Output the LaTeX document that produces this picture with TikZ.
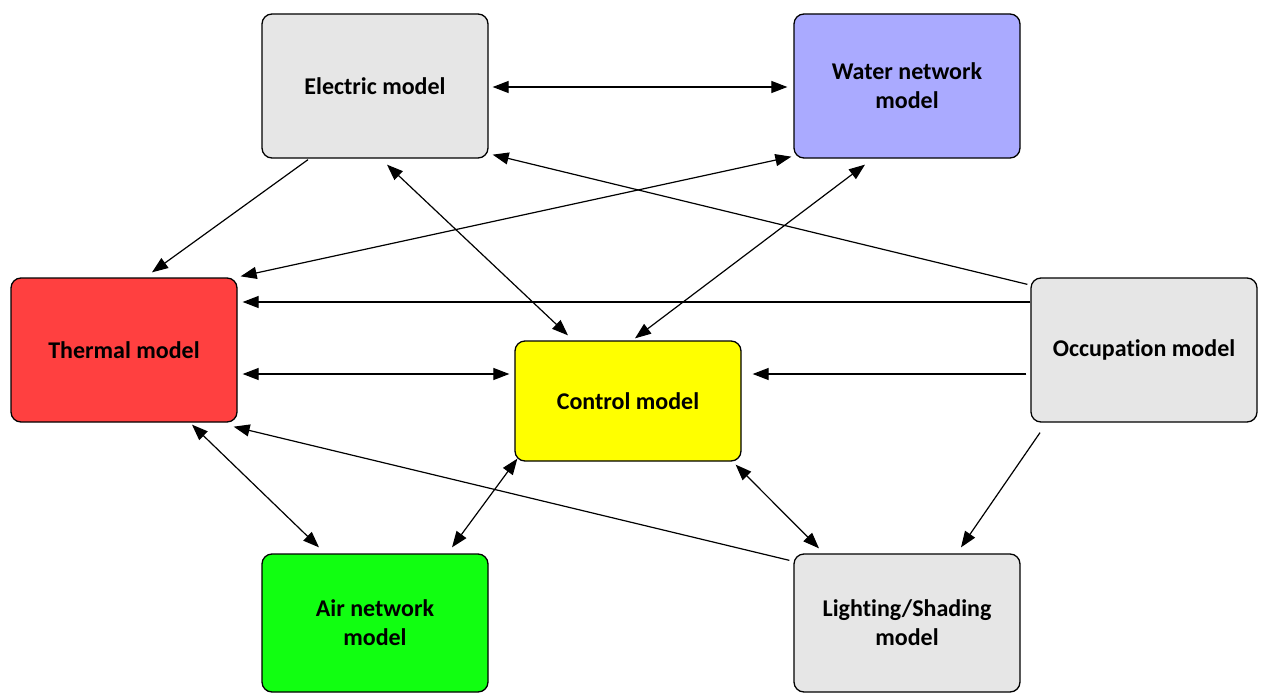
\documentclass[tikz,border=0pt]{standalone}
\usepackage{fontspec}
\setmainfont{Carlito}[Ligatures=NoCommon]
\usetikzlibrary{arrows.meta,calc}
\definecolor{boxgray}{HTML}{E6E6E6}
\definecolor{waterblue}{HTML}{AAAAFF}
\definecolor{thermred}{HTML}{FF4040}
\definecolor{ctrlyellow}{HTML}{FFFF00}
\definecolor{airgreen}{HTML}{11FF11}
\begin{document}
\begin{tikzpicture}[x=1pt,y=-1pt,
  box/.style={draw=black, line width=1.3pt, rounded corners=10pt,
    minimum width=226pt, minimum height=144pt, align=center, inner sep=0pt,
    font=\fontsize{24}{29}\selectfont\bfseries},
  link/.style={line width=1.2pt, -{Triangle[length=16pt,width=12pt]}},
  dlink/.style={line width=1.2pt, {Triangle[length=16pt,width=12pt]}-{Triangle[length=16pt,width=12pt]}}]
\useasboundingbox (0,0) rectangle (1261,693);
\node[box, fill=boxgray] (elec) at (375,86) {Electric model};
\node[box, fill=waterblue] (water) at (907,86) {Water network\\model};
\node[box, fill=thermred] (therm) at (124,350) {Thermal model};
\node[box, fill=ctrlyellow, minimum height=120pt] (ctrl) at (628,401) {Control model};
\node[box, fill=boxgray] (occ) at (1144,350) {Occupation model};
\node[box, fill=airgreen, minimum height=138pt] (air) at (375,623) {Air network\\model};
\node[box, fill=boxgray, minimum height=138pt] (light) at (907,623) {Lighting/Shading\\model};

\draw[dlink] ($(elec.east)+(4,1)$) -- ($(water.west)+(-6,1)$);
\draw[link] ($(elec.south)+(-67,1)$) -- ($(therm.north)+(28,-5)$);
\draw[dlink] ($(water.south west)+(-2,-2)$) -- ($(therm.north east)+(3,-1)$);
\draw[dlink] ($(elec.south)+(12,6)$) -- ($(ctrl.north)+(-60,-5)$);
\draw[dlink] ($(water.south)+(-42,6)$) -- ($(ctrl.north)+(7,-2)$);
\draw[link] ($(occ.north west)+(-3,7)$) -- ($(elec.south east)+(4,-4)$);
\draw[link] ($(occ.west)+(0,-48)$) -- ($(therm.east)+(5,-48)$);
\draw[dlink] ($(therm.east)+(5,24)$) -- ($(ctrl.west)+(-5,-27)$);
\draw[link] ($(occ.west)+(-4,24)$) -- ($(ctrl.east)+(11,-27)$);
\draw[link] ($(occ.south)+(-104,10)$) -- ($(light.north)+(54,-6)$);
\draw[dlink] ($(therm.south)+(68,2)$) -- ($(air.north)+(-56,-6)$);
\draw[dlink] ($(ctrl.south west)+(3,-3)$) -- ($(air.north)+(77,-6)$);
\draw[dlink] ($(ctrl.south east)+(-6,3)$) -- ($(light.north)+(-88,-5)$);
\draw[link] ($(light.north west)+(-4,7)$) -- ($(therm.south east)+(-4,4)$);
\end{tikzpicture}
\end{document}
